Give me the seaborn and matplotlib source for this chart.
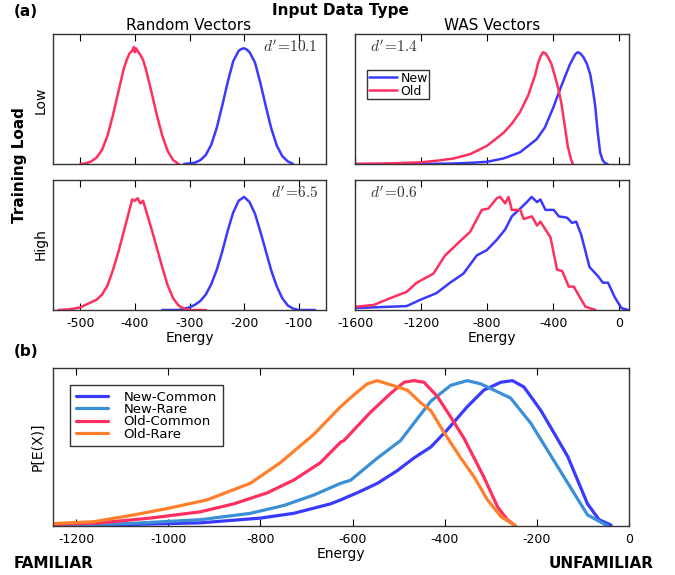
import numpy as np
import pandas as pd
import seaborn as sns
import matplotlib.pyplot as plt

# ---- data (relative density, peak scaled to axis height) ----
# Random vectors, low training load
rl_new_x = [-310, -300, -290, -280, -270, -260, -250, -240, -230, -220, -210, -205, -200, -195, -190,
            -180, -170, -160, -150, -140, -130, -120, -110]
rl_new_y = [0.0, 0.005, 0.01, 0.03, 0.07, 0.15, 0.28, 0.45, 0.63, 0.79, 0.87, 0.885, 0.89, 0.88, 0.86,
            0.78, 0.62, 0.44, 0.27, 0.14, 0.06, 0.02, 0.0]
rl_old_x = [-500, -490, -480, -470, -460, -450, -440, -430, -420, -415, -410, -405, -402, -400, -398,
            -395, -392, -390, -385, -380, -370, -360, -350, -340, -330, -320]
rl_old_y = [0.0, 0.005, 0.02, 0.05, 0.11, 0.22, 0.38, 0.56, 0.74, 0.8, 0.85, 0.87, 0.9, 0.86, 0.89,
            0.87, 0.85, 0.84, 0.8, 0.73, 0.56, 0.38, 0.22, 0.1, 0.03, 0.0]

# Random vectors, high training load
rh_new_x = [-350, -320, -310, -300, -290, -280, -270, -260, -250, -240, -230, -220, -210, -200,
            -190, -180, -170, -160, -150, -140, -130, -120, -110, -100, -70]
rh_new_y = [0.0, 0.0, 0.01, 0.02, 0.04, 0.07, 0.12, 0.2, 0.31, 0.45, 0.61, 0.75, 0.84, 0.87,
            0.83, 0.74, 0.6, 0.45, 0.3, 0.18, 0.09, 0.035, 0.01, 0.0, 0.0]
rh_old_x = [-540, -520, -500, -490, -480, -470, -460, -450, -440, -430, -420, -410, -405, -400,
            -395, -390, -385, -380, -370, -360, -350, -340, -330, -320, -310, -300, -270]
rh_old_y = [0.0, 0.005, 0.02, 0.04, 0.06, 0.08, 0.12, 0.19, 0.31, 0.45, 0.61, 0.77, 0.85, 0.84,
            0.86, 0.82, 0.84, 0.77, 0.63, 0.48, 0.33, 0.19, 0.09, 0.035, 0.01, 0.0, 0.0]

# WAS vectors, low training load
wl_new_x = [-1600, -1200, -1000, -900, -800, -700, -600, -500, -450, -400, -350, -300, -280, -265,
            -250, -235, -215, -195, -175, -160, -145, -130, -115, -100, -85, -70]
wl_new_y = [0.0, 0.0, 0.004, 0.009, 0.017, 0.043, 0.09, 0.19, 0.28, 0.43, 0.6, 0.76, 0.81, 0.845,
            0.86, 0.85, 0.82, 0.77, 0.69, 0.58, 0.45, 0.25, 0.09, 0.03, 0.007, 0.0]
wl_old_x = [-1600, -1400, -1200, -1100, -1000, -900, -800, -700, -650, -600, -550, -510, -490, -475,
            -460, -445, -430, -410, -390, -370, -350, -330, -310, -290, -280]
wl_old_y = [0.0, 0.004, 0.013, 0.026, 0.043, 0.077, 0.14, 0.24, 0.31, 0.4, 0.53, 0.68, 0.78, 0.83,
            0.86, 0.85, 0.82, 0.77, 0.68, 0.59, 0.47, 0.3, 0.13, 0.03, 0.0]

# WAS vectors, high training load
wh_new_x = [-1600, -1287, -1207, -1106, -1024, -943, -862, -802, -741, -690, -650, -599, -559, -530,
            -497, -477, -446, -396, -365, -315, -285, -260, -230, -179, -128, -98, -67, -27, 14, 55]
wh_new_y = [0.015, 0.03, 0.077, 0.13, 0.21, 0.28, 0.42, 0.46, 0.54, 0.62, 0.72, 0.78, 0.83, 0.87,
            0.83, 0.85, 0.77, 0.77, 0.72, 0.71, 0.67, 0.68, 0.58, 0.33, 0.26, 0.21, 0.21, 0.1, 0.015, 0.0]
wh_old_x = [-1600, -1489, -1388, -1287, -1226, -1125, -1054, -963, -903, -832, -792, -741, -721,
            -690, -670, -650, -599, -578, -528, -497, -477, -416, -376, -345, -305, -275, -204, -143]
wh_old_y = [0.025, 0.038, 0.09, 0.14, 0.21, 0.28, 0.42, 0.53, 0.6, 0.77, 0.78, 0.86, 0.87,
            0.82, 0.87, 0.77, 0.77, 0.7, 0.72, 0.65, 0.68, 0.56, 0.31, 0.3, 0.18, 0.18, 0.025, 0.0]

# Panel (b): new/old x common/rare
nc_x = [-1250, -1076, -930, -800, -728, -648, -626, -590, -546, -503, -467, -430, -394, -351, -315,
        -278, -253, -228, -191, -133, -90, -65, -39]
nc_y = [0.0, 0.01, 0.02, 0.05, 0.08, 0.14, 0.165, 0.21, 0.27, 0.35, 0.43, 0.5, 0.61, 0.755, 0.86,
        0.91, 0.92, 0.88, 0.73, 0.44, 0.14, 0.04, 0.006]
nr_x = [-1250, -1076, -930, -822, -749, -684, -626, -604, -546, -496, -430, -387, -351, -322, -257,
        -213, -177, -141, -90, -46]
nr_y = [0.0, 0.017, 0.04, 0.08, 0.13, 0.196, 0.27, 0.29, 0.43, 0.54, 0.79, 0.89, 0.92, 0.9, 0.81,
        0.65, 0.48, 0.31, 0.07, 0.0]
oc_x = [-1250, -1148, -1039, -930, -858, -785, -728, -670, -626, -619, -561, -517, -488, -467, -445,
        -416, -387, -358, -315, -285, -264, -246]
oc_y = [0.01, 0.02, 0.05, 0.09, 0.14, 0.21, 0.29, 0.4, 0.53, 0.54, 0.72, 0.84, 0.91, 0.92, 0.91,
        0.82, 0.69, 0.555, 0.31, 0.12, 0.04, 0.0]
or_x = [-1250, -1162, -1075, -1003, -916, -822, -757, -684, -626, -597, -568, -546, -481, -452, -430,
        -401, -365, -336, -307, -278, -246]
or_y = [0.015, 0.027, 0.07, 0.11, 0.165, 0.27, 0.4, 0.58, 0.755, 0.83, 0.9, 0.92, 0.86, 0.78, 0.73,
        0.59, 0.43, 0.31, 0.165, 0.06, 0.0]

dprimes = ["10.1", "1.4", "6.5", "0.6"]
b_labels = ["New-Common", "New-Rare", "Old-Common", "Old-Rare"]

c_new = "#3a3aff"
c_old = "#ff3060"
c_rare_new = "#3a8fd6"
c_rare_old = "#ff7f2a"

sns.set_style("ticks", {"xtick.direction": "in", "xtick.top": True, "xtick.bottom": True})
plt.rcParams["font.family"] = ["DejaVu Sans"]
plt.rcParams["mathtext.fontset"] = "cm"
plt.rcParams["axes.unicode_minus"] = False
plt.rcParams["text.color"] = "black"
plt.rcParams["axes.labelcolor"] = "black"
plt.rcParams["xtick.color"] = "black"

fig = plt.figure(figsize=(6.75, 5.75), dpi=100)
W, H = 675.0, 575.0


def box(l, t, r, b):
    return [l / W, 1 - b / H, (r - l) / W, (b - t) / H]


ax_rl = fig.add_axes(box(53, 34, 326, 164))
ax_wl = fig.add_axes(box(355, 34, 629, 164))
ax_rh = fig.add_axes(box(53, 180, 326, 310))
ax_wh = fig.add_axes(box(355, 180, 629, 310))
ax_b = fig.add_axes(box(53, 368, 629, 526))

panels = [
    (ax_rl, rl_new_x, rl_new_y, rl_old_x, rl_old_y),
    (ax_wl, wl_new_x, wl_new_y, wl_old_x, wl_old_y),
    (ax_rh, rh_new_x, rh_new_y, rh_old_x, rh_old_y),
    (ax_wh, wh_new_x, wh_new_y, wh_old_x, wh_old_y),
]
for i, (ax, nx, ny, ox, oy) in enumerate(panels):
    sns.lineplot(x=nx, y=ny, ax=ax, color=c_new, lw=1.8, label="New")
    sns.lineplot(x=ox, y=oy, ax=ax, color=c_old, lw=1.8, label="Old")
    ax.set_ylim(0, 1)
    ax.set_yticks([])
    if i % 2 == 0:
        ax.set_xlim(-550, -50)
        ax.set_xticks([-500, -400, -300, -200, -100])
        ax.text(0.97, 0.9, r"$d'\!=\!$" + r"$%s$" % dprimes[i], transform=ax.transAxes,
                ha="right", va="center", fontsize=11, color="#333333")
    else:
        ax.set_xlim(-1600, 60)
        ax.set_xticks([-1600, -1200, -800, -400, 0])
        ax.text(0.055, 0.9, r"$d'\!=\!$" + r"$%s$" % dprimes[i], transform=ax.transAxes,
                ha="left", va="center", fontsize=11, color="#333333")
    ax.tick_params(axis="x", direction="in", top=True, bottom=True, length=5, width=0.8,
                   labelsize=9, pad=5)
    if i < 2:
        ax.tick_params(axis="x", labelbottom=False)
    else:
        ax.set_xlabel("Energy", fontsize=10, labelpad=1)
    ax.set_ylabel("")
    for s in ax.spines.values():
        s.set_visible(True)
        s.set_color("#333333")
        s.set_linewidth(1.0)
    if i == 1:
        ax.legend(loc="upper left", bbox_to_anchor=(0.045, 0.72), fontsize=9, frameon=True,
                  fancybox=False, edgecolor="black", handlelength=2.3, labelspacing=0.0,
                  borderpad=0.1, handletextpad=0.25, borderaxespad=0)
        ax.get_legend().get_frame().set_linewidth(1.0)
    else:
        ax.get_legend().remove()

# panel (b)
for xs, ys, c, lab in zip([nc_x, nr_x, oc_x, or_x], [nc_y, nr_y, oc_y, or_y],
                          [c_new, c_rare_new, c_old, c_rare_old], b_labels):
    sns.lineplot(x=xs, y=ys, ax=ax_b, color=c, lw=2.3, label=lab)
ax_b.set_xlim(-1250, 0)
ax_b.set_ylim(0, 1)
ax_b.set_yticks([])
ax_b.set_xticks([-1200, -1000, -800, -600, -400, -200, 0])
ax_b.tick_params(axis="x", direction="in", top=True, bottom=True, length=5, width=0.8,
                 labelsize=9, pad=5)
ax_b.set_xlabel("Energy", fontsize=10, labelpad=1)
ax_b.set_ylabel("P[E(X)]", fontsize=10, labelpad=6)
for s in ax_b.spines.values():
    s.set_visible(True)
    s.set_color("#333333")
    s.set_linewidth(1.0)
leg = ax_b.legend(loc="upper left", bbox_to_anchor=(0.03, 0.895), fontsize=9.5, frameon=True,
                  fancybox=False, edgecolor="black", handlelength=2.4, labelspacing=-0.05,
                  borderpad=0.45, handletextpad=1.2, borderaxespad=0)
leg.get_frame().set_linewidth(1.0)

# figure texts
fig.text(14 / W, 1 - 12 / H, "(a)", fontsize=11, fontweight="bold", va="center", ha="left")
fig.text(340 / W, 1 - 10 / H, "Input Data Type", fontsize=11, fontweight="bold", va="center", ha="center")
fig.text(189 / W, 1 - 25 / H, "Random Vectors", fontsize=11, va="center", ha="center")
fig.text(492 / W, 1 - 25 / H, "WAS Vectors", fontsize=11, va="center", ha="center")
fig.text(20 / W, 1 - 165 / H, "Training Load", fontsize=11, fontweight="bold", rotation=90,
         va="center", ha="center")
fig.text(41 / W, 1 - 100 / H, "Low", fontsize=10, rotation=90, va="center", ha="center")
fig.text(41 / W, 1 - 244 / H, "High", fontsize=10, rotation=90, va="center", ha="center")
fig.text(14 / W, 1 - 352 / H, "(b)", fontsize=11, fontweight="bold", va="center", ha="left")
fig.text(14 / W, 1 - 563 / H, "FAMILIAR", fontsize=11, fontweight="bold", va="center", ha="left")
fig.text(654 / W, 1 - 563 / H, "UNFAMILIAR", fontsize=11, fontweight="bold", va="center", ha="right")

fig.savefig("out.png", dpi=100)
